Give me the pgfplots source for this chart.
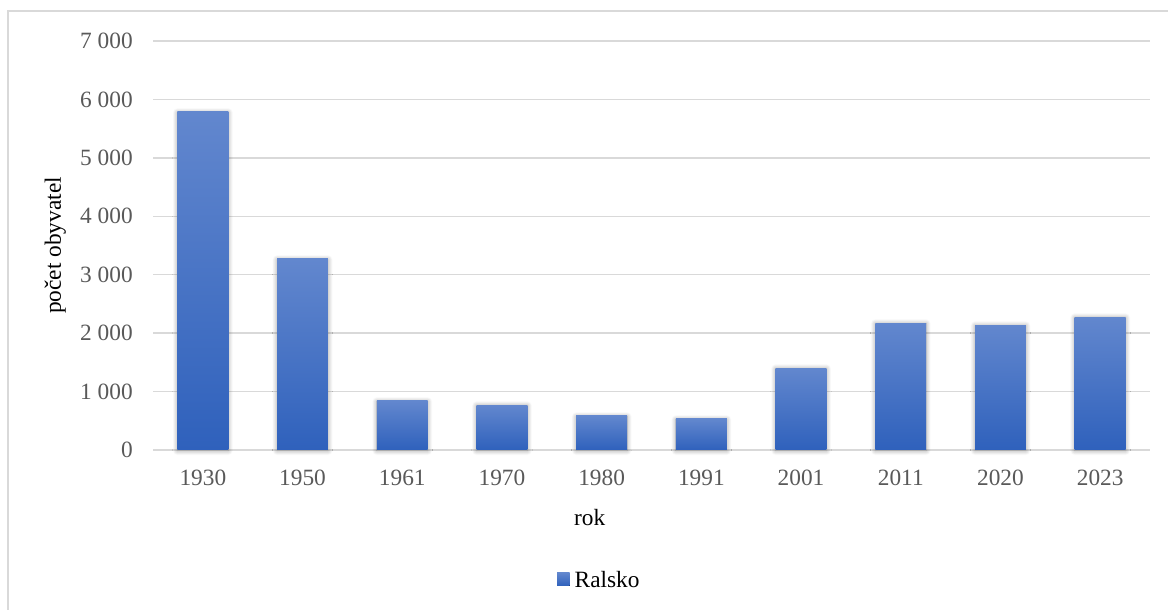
\documentclass[border=0pt]{standalone}
\usepackage{fontspec}
\setmainfont{Liberation Serif}
\usepackage{pgfplots}
\pgfplotsset{compat=1.18}
\usetikzlibrary{shadows.blur}
\definecolor{barTop}{RGB}{98,135,206}
\definecolor{barBot}{RGB}{47,97,188}
\definecolor{gridc}{RGB}{217,217,217}
\definecolor{tickc}{RGB}{89,89,89}
\newcommand{\cf}{\rmfamily\fontsize{17.5pt}{21pt}\selectfont}
\pgfplotsset{
  mybar/.style={ybar, bar width=0.51, draw=none, top color=barTop, bottom color=barBot,
    blur shadow={shadow xshift=0pt, shadow yshift=-0.5pt, shadow blur radius=3.5pt, shadow opacity=40, shadow blur steps=8}},
}
\begin{document}
\begin{tikzpicture}
\useasboundingbox (0,0) rectangle (876pt,457.5pt);
\draw[gridc, line width=0.9pt] (6pt,-5pt) -- (6pt,449.25pt) -- (890pt,449.25pt);
\begin{axis}[
  at={(114.75pt,120pt)}, anchor=south west,
  scale only axis,
  width=747.75pt, height=306.75pt,
  xmin=-0.5, xmax=9.5, ymin=0, ymax=7000,
  enlargelimits=false, clip=false,
  axis line style={draw=none},
  major tick length=0pt,
  xtick={0,1,2,3,4,5,6,7,8,9},
  xticklabels={1930,1950,1961,1970,1980,1991,2001,2011,2020,2023},
  ytick={0,1000,2000,3000,4000,5000,6000,7000},
  yticklabels={0,1~000,2~000,3~000,4~000,5~000,6~000,7~000},
  ymajorgrids,
  major grid style={gridc, line width=1pt},
  xticklabel style={font=\cf, text=tickc, anchor=north, inner sep=0pt, yshift=-15pt},
  yticklabel style={font=\cf, text=tickc, anchor=east, inner sep=0pt, xshift=-15pt},
  xlabel={rok},
  xlabel style={font=\cf, at={(axis description cs:0.438,-0.1834)}, anchor=base, inner sep=0pt},
  ylabel={počet obyvatel},
  ylabel style={font=\cf, at={(axis description cs:-0.098,0.5)}, anchor=center, inner sep=0pt},
  legend style={at={(axis description cs:0.405,-0.319)}, anchor=west, draw=none, fill=none,
    inner sep=0pt, column sep=0pt, font=\cf, nodes={inner sep=0pt, font=\cf}},
  legend image code/.code={},
]
\addplot[mybar] coordinates {(0,5785)};
\addlegendentry{\tikz[baseline=0pt]{\fill[top color=barTop, bottom color=barBot] (0pt,1.2pt) rectangle (9.5pt,11.2pt);}\hspace{3.75pt}Ralsko}
\addplot[mybar, forget plot] coordinates {(1,3270)};
\addplot[mybar, forget plot] coordinates {(2,840)};
\addplot[mybar, forget plot] coordinates {(3,770)};
\addplot[mybar, forget plot] coordinates {(4,582)};
\addplot[mybar, forget plot] coordinates {(5,531)};
\addplot[mybar, forget plot] coordinates {(6,1403)};
\addplot[mybar, forget plot] coordinates {(7,2173)};
\addplot[mybar, forget plot] coordinates {(8,2139)};
\addplot[mybar, forget plot] coordinates {(9,2276)};
\end{axis}
\end{tikzpicture}
\end{document}
